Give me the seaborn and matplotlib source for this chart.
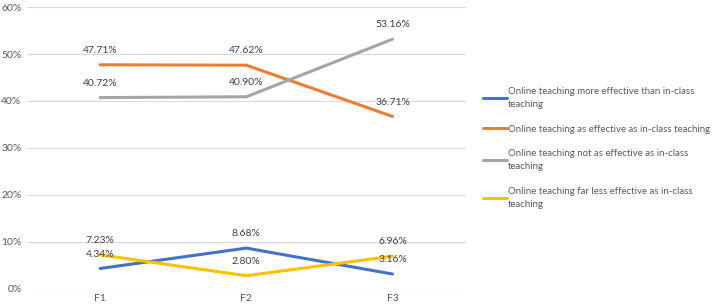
import numpy as np
import pandas as pd
import seaborn as sns
import matplotlib.pyplot as plt
from matplotlib.ticker import PercentFormatter

# values
groups = ["F1", "F2", "F3"]
more_effective = [4.34, 8.68, 3.16]
as_effective = [47.71, 47.62, 36.71]
not_as_effective = [40.72, 40.90, 53.16]
far_less_effective = [7.23, 2.80, 6.96]

series_names = [
    "Online teaching more effective than in-class\nteaching",
    "Online teaching as effective as in-class teaching",
    "Online teaching not as effective as in-class\nteaching",
    "Online teaching far less effective as in-class\nteaching",
]
colors = ["#4472C4", "#ED7D31", "#A5A5A5", "#FFC000"]

all_vals = [more_effective, as_effective, not_as_effective, far_less_effective]
rows = []
for name, vals in zip(series_names, all_vals):
    for g, v in zip(groups, vals):
        rows.append({"Group": g, "Percent": v, "Series": name})
df = pd.DataFrame(rows)

sns.set_style("white")
plt.rcParams["font.family"] = ["Lato", "DejaVu Sans"]

fig = plt.figure(figsize=(7.12, 3.06), dpi=100)
ax = fig.add_axes([0.038, 0.056, 0.616, 0.921])

sns.lineplot(data=df, x="Group", y="Percent", hue="Series", palette=colors,
             linewidth=2.2, ax=ax, sort=False)

# data labels above each point
for vals in all_vals:
    for i, v in enumerate(vals):
        ax.annotate(f"{v:.2f}%", (i, v), xytext=(0, 7), textcoords="offset points",
                    ha="center", va="bottom", fontsize=7.5, color="#404040")

ax.set_xlim(-0.5, 2.5)
ax.set_ylim(0, 60)
ax.set_yticks(np.arange(0, 61, 10))
ax.yaxis.set_major_formatter(PercentFormatter(decimals=0))
ax.grid(axis="y", color="#D9D9D9", linewidth=0.8)
ax.set_axisbelow(True)
for s in ax.spines.values():
    s.set_visible(False)
ax.tick_params(axis="both", length=0, labelsize=7.5, labelcolor="#595959", pad=4)
ax.set_xlabel("")
ax.set_ylabel("")

leg = ax.legend(loc="center left", bbox_to_anchor=(1.025, 0.5), frameon=False,
                fontsize=6.9, handlelength=2.5, handletextpad=0.1, labelspacing=1.6,
                borderaxespad=0.3)
for t in leg.get_texts():
    t.set_color("#595959")
    t.set_linespacing(1.6)
for l in leg.get_lines():
    l.set_linewidth(2.2)

plt.savefig("out.png", dpi=100)
